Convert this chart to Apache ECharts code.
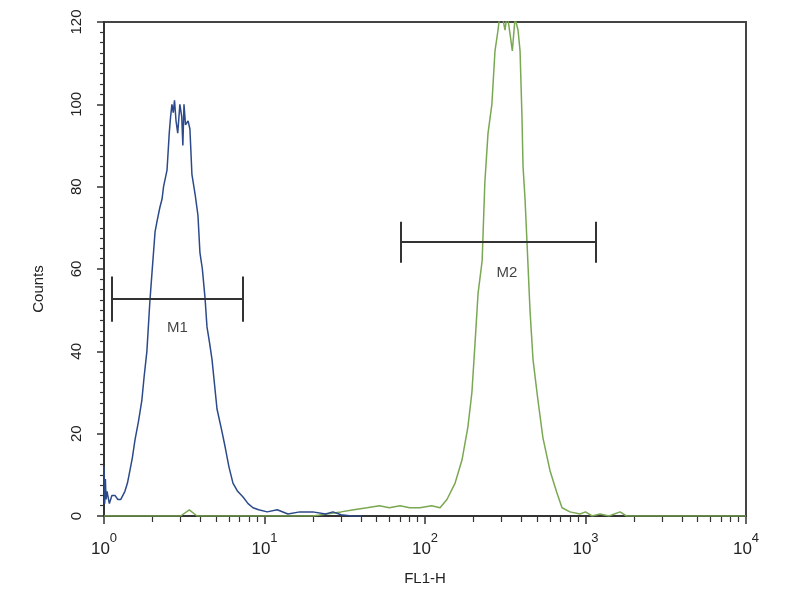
<!DOCTYPE html>
<html><head><meta charset="utf-8">
<script src="https://cdn.jsdelivr.net/npm/echarts@6/dist/echarts.min.js"></script>
<style>html,body{margin:0;padding:0;background:#fff}#c{width:800px;height:600px}</style>
</head><body><div id="c"></div>
<script>
// ---- data ----
const blueFL1 = [1.00,1.01,1.02,1.03,1.044,1.08,1.12,1.17,1.22,1.27,1.35,1.40,1.45,1.50,1.56,1.64,1.72,1.78,1.85,1.93,1.99,2.08,2.15,2.23,2.30,2.35,2.47,2.55,2.60,2.65,2.70,2.75,2.81,2.88,2.97,3.05,3.10,3.15,3.22,3.34,3.43,3.53,3.70,3.85,3.96,4.10,4.26,4.38,4.55,4.71,5.06,5.40,5.67,6.00,6.36,6.80,7.35,7.90,8.48,9.20,10.4,12.0,14.0,16.6,20.0,24.0,26.7,30.0,35.0,40.0];
const blueCounts = [12,3,9,4,6,3,5,5,4,4,6,8,11,14,18.5,23,28,34,40,52,59,69,72,75,77,80,84,93,97,100,98,101,96,93,100,97,90,100,95,96,94,83,78,73,64,60,53,46,42,38,26,21,17,12,8,6,4.6,3,2,1.5,1,1.5,0.5,1,1,0.5,1,0.3,0,0];
const greenFL1 = [1,3.0,3.4,3.8,4.2,20,30,36,43.5,52,60,70,80,93,110,124,137,154,170,185,196,205,214,227,236,247,261,273,285,293,305,315,325,339,350,364,380,391,402,408,420,432,451,471,506,543,601,664,714,800,925,1000,1100,1232,1400,1641,1800,10000];
const greenCounts = [0,0,1.5,0,0,0,1,1.5,2,2.5,2,2.5,2,2,2.5,2,4,8,13.6,21.6,30,42,54,62,81,93,100,113,118,122,121,118,122,117,113,121,118,113,97,85,77,66.5,50,38,28,19,11,5.6,2,1,0.5,1,0,0.5,0,1,0,0];

const markerNames = ['M1', 'M2'];
const markerFrom = [1.117, 70.8];
const markerTo = [7.35, 1162];
const markerLevel = [52.7, 66.5];
const markerCapHalf = [5.5, 5];
const markerLabelX = [2.87, 324];
const markerLabelY = [45.6, 59];

const yTickValues = [0, 20, 40, 60, 80, 100, 120];
const xDecades = [1, 10, 100, 1000, 10000];
const xMinorTicks = [2,3,4,5,6,7,8,9,20,30,40,50,60,70,80,90,200,300,400,500,600,700,800,900,2000,3000,4000,5000,6000,7000,8000,9000];

const FONT = "'Liberation Sans', Arial, sans-serif";
const TXT = '#222';
const AX = '#333';

const chart = echarts.init(document.getElementById('c'), null, {renderer: 'canvas'});

const markLineData = [];
markerNames.forEach((n, i) => {
  const f = markerFrom[i], t = markerTo[i], y = markerLevel[i], c = markerCapHalf[i];
  markLineData.push([{coord: [f, y]}, {coord: [t, y]}]);
  markLineData.push([{coord: [f, y - c]}, {coord: [f, y + c]}]);
  markLineData.push([{coord: [t, y - c]}, {coord: [t, y + c]}]);
});

const option = {
  backgroundColor: '#fff',
  animation: false,
  textStyle: {fontFamily: FONT},
  grid: {left: 104, right: 54, top: 22, bottom: 84, show: true, borderColor: '#444', borderWidth: 2, backgroundColor: 'transparent'},
  xAxis: [{
    type: 'log', logBase: 10, min: 1, max: 10000,
    name: 'FL1-H', nameLocation: 'middle', nameGap: 55,
    nameTextStyle: {fontSize: 15, color: TXT, fontFamily: FONT},
    axisLine: {lineStyle: {color: AX, width: 2}},
    axisTick: {show: true, length: 8, lineStyle: {color: AX, width: 1.5}, customValues: xDecades},
    axisLabel: {
      customValues: xDecades,
      margin: 16, color: TXT,
      formatter: v => '{b|10}{s|' + Math.round(Math.log10(v)) + '}',
      rich: {
        b: {fontSize: 17, fontFamily: FONT, color: TXT, verticalAlign: 'bottom', lineHeight: 26},
        s: {fontSize: 13, fontFamily: FONT, color: TXT, verticalAlign: 'top', lineHeight: 26}
      }
    },
    splitLine: {show: false}
  }, {
    type: 'log', logBase: 10, min: 1, max: 10000, position: 'bottom', gridIndex: 0,
    axisLine: {show: false},
    axisTick: {show: true, length: 6, lineStyle: {color: AX, width: 1.2}, customValues: xMinorTicks},
    axisLabel: {show: false},
    splitLine: {show: false}
  }],
  yAxis: {
    type: 'value', min: 0, max: 120, interval: 20,
    name: 'Counts', nameLocation: 'middle', nameGap: 58,
    nameTextStyle: {fontSize: 15, color: TXT, fontFamily: FONT, padding: [0, 40, 0, 0]},
    axisLine: {show: true, lineStyle: {color: AX, width: 2}},
    axisTick: {show: true, length: 7, lineStyle: {color: AX, width: 1.5}},
    minorTick: {show: true, splitNumber: 8, length: 4, lineStyle: {color: AX, width: 1.2}},
    axisLabel: {rotate: 90, fontSize: 15, color: TXT, margin: 20, fontFamily: FONT},
    splitLine: {show: false}
  },
  series: [{
    name: 'green', type: 'line', xAxisIndex: 0, symbol: 'none', clip: true,
    data: greenFL1.map((v, i) => [v, greenCounts[i]]),
    lineStyle: {color: '#7aa852', width: 1.5}
  }, {
    name: 'blue', type: 'line', xAxisIndex: 0, symbol: 'none', clip: true,
    data: blueFL1.map((v, i) => [v, blueCounts[i]]),
    lineStyle: {color: '#2c4a8a', width: 1.5},
    markLine: {
      silent: true, symbol: ['none', 'none'], label: {show: false},
      lineStyle: {color: '#333', width: 2, type: 'solid'},
      data: markLineData
    }
  }, {
    name: 'markers', type: 'scatter', xAxisIndex: 0, symbolSize: 0,
    data: markerNames.map((n, i) => ({value: [markerLabelX[i], markerLabelY[i]], name: n})),
    label: {show: true, position: 'inside', formatter: p => p.name, fontSize: 15, color: '#111', fontFamily: FONT}
  }]
};
chart.setOption(option);
</script>
</body></html>
